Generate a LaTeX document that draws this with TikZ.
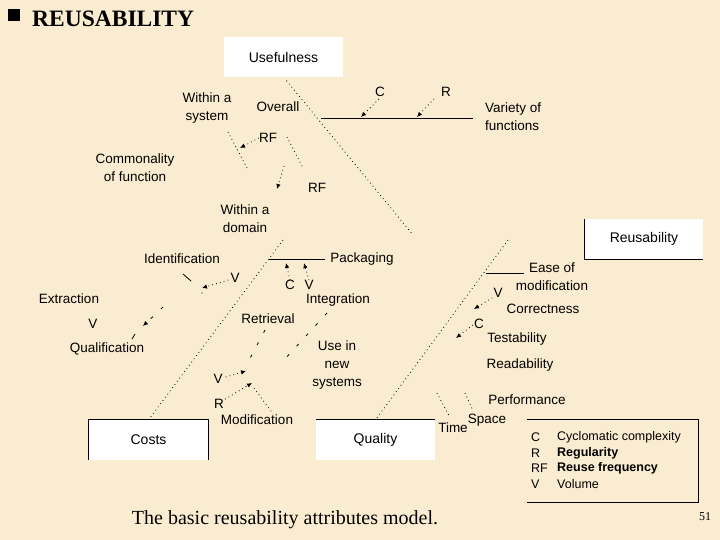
\documentclass[tikz,border=0pt]{standalone}
\usepackage{fontspec}
\setmainfont{Liberation Serif}
\newfontfamily\arialf{Liberation Sans}
\usetikzlibrary{arrows.meta,calc}
\definecolor{parch}{RGB}{250,236,208}
\begin{document}
\begin{tikzpicture}[x=1pt,y=-1pt,
  lbl/.style={font=\arialf\fontsize{13.5}{18}\selectfont, align=center, inner sep=0pt},
  lgd/.style={font=\arialf\fontsize{12.5}{15}\selectfont, anchor=west, inner sep=0pt},
  boxw/.style={fill=white, draw=none, minimum width=119pt, minimum height=40pt, inner sep=0pt, font=\arialf\fontsize{14}{16}\selectfont},
  dotl/.style={line width=0.8pt, dash pattern=on 0.8pt off 3.2pt},
  sparse/.style={line width=0.8pt, dash pattern=on 3pt off 11pt},
  arr/.style={-{Latex[length=5pt,width=4.5pt]}},
  solid1/.style={line width=0.8pt}]
\fill[parch] (0,0) rectangle (720,540);
\useasboundingbox (0,0) rectangle (720,540);

% title
\fill[black] (8,9) rectangle (20,21);
\node[anchor=west, inner sep=0pt, font=\bfseries\fontsize{23.5}{26}\selectfont] (title) at (32,19) {REUSABILITY};

% boxes
\node[boxw] (use) at (283.5,57.5) {Usefulness};
\node[boxw, minimum width=118pt] (reuse) at (644,239) {Reusability};
\draw[solid1] (reuse.north west) -- (reuse.south west) -- (reuse.south east);
\node[boxw] (costs) at (148.5,440) {Costs};
\draw[solid1] (costs.south west) -- (costs.north west) -- (costs.north east) -- (costs.south east);
\node[boxw] (quality) at (375.5,440) {Quality};
\draw[solid1] (quality.north west) -- (quality.north east);

% legend
\node[draw=none, minimum width=171pt, minimum height=82pt, inner sep=0pt] (legend) at (612.5,461) {};
\draw[solid1] (legend.north west) -- (legend.north east) -- (legend.south east) -- (legend.south west);
\node[lgd] (lc) at (531,437) {C};
\node[lgd] (lcx) at (557,437) {Cyclomatic complexity};
\node[lgd] (lr) at (531,453) {R};
\node[lgd] (lrx) at (557,453) {\bfseries Regularity};
\node[lgd] (lrf) at (531,468) {RF};
\node[lgd] (lrfx) at (557,468) {\bfseries Reuse frequency};
\node[lgd] (lv) at (531,484) {V};
\node[lgd] (lvx) at (557,484) {Volume};

% labels
\node[lbl] (wsys) at (207,108) {Within a\\system};
\node[lbl] (overall) at (278,107) {Overall};
\node[lbl] (rf1) at (268,138) {RF};
\node[lbl] (common) at (135,168) {Commonality\\of function};
\node[lbl] (rf2) at (317,188) {RF};
\node[lbl] (wdom) at (245,219) {Within a\\domain};
\node[lbl] (cv) at (380,92) {C};
\node[lbl] (rv) at (446,92) {R};
\node[lbl, anchor=west, align=left] (variety) at (485,117) {Variety of\\functions};
\node[lbl] (ident) at (182,259) {Identification};
\node[lbl] (pack) at (362,259) {Packaging};
\node[lbl] (vid) at (235,278) {V};
\node[lbl] (cp) at (290,285) {C};
\node[lbl] (vp) at (309,285) {V};
\node[lbl] (extr) at (69,299) {Extraction};
\node[lbl] (integ) at (338,300) {Integration};
\node[lbl] (vex) at (93,324) {V};
\node[lbl] (retr) at (268,319) {Retrieval};
\node[lbl] (qual) at (107,349) {Qualification};
\node[lbl] (usenew) at (337,365) {Use in\\new\\systems};
\node[lbl] (vm) at (218,379) {V};
\node[lbl] (rm) at (219,404) {R};
\node[lbl] (modif) at (257,420) {Modification};
\node[lbl] (ease) at (552,277) {Ease of\\modification};
\node[lbl] (ve) at (498,293) {V};
\node[lbl] (corr) at (543,309) {Correctness};
\node[lbl] (ce) at (479,324) {C};
\node[lbl] (test) at (517,339) {Testability};
\node[lbl] (read) at (520,365) {Readability};
\node[lbl] (perf) at (527,400) {Performance};
\node[lbl] (time) at (453,428) {Time};
\node[lbl] (space) at (487,420) {Space};

% main dotted lines
\coordinate (uend) at (413,235);
\coordinate (cstart) at (283,240);
\coordinate (qstart) at (508,240);
\draw[dotl] ($(use.south)+(3,3)$) -- (uend);
\draw[dotl] (cstart) -- (costs.north);
\draw[dotl] (qstart) -- (quality.north);

% variety of functions
\coordinate (va) at (321,118);
\coordinate (vb) at (473,118);
\draw[solid1] (va) -- (vb);
\coordinate (vca) at (361,117);
\coordinate (vra) at (417,117);
\draw[dotl, arr] ($(cv.south)+(-1,2)$) -- (vca);
\draw[dotl, arr] ($(rv.south)+(-12,2)$) -- (vra);

% within a system / overall / RF
\coordinate (ws1) at (228,132);
\coordinate (ws2) at (247,168);
\draw[dotl] (ws1) -- (ws2);
\coordinate (rf1t) at (240,148);
\draw[dotl, arr] (rf1.west) -- (rf1t);
\coordinate (ov1) at (287,137);
\coordinate (ov2) at (303,168);
\draw[dotl] (ov1) -- (ov2);
\coordinate (wd1) at (284,166);
\coordinate (wd2) at (277,189);
\draw[dotl, arr] (wd1) -- (wd2);

% packaging
\coordinate (pa) at (269,259);
\coordinate (pb) at (325,259);
\draw[solid1] (pa) -- (pb);
\draw[dotl, arr] (cp.north) -- ($(cp.north)+(-4,-17)$);
\draw[dotl, arr] (vp.north) -- ($(vp.north)+(-5,-17)$);

% identification
\coordinate (id1) at (183,274);
\coordinate (id2) at (191,281);
\draw[line width=0.8pt] (id1) -- (id2);
\coordinate (id3) at (202,288);
\draw[dotl, arr] ($(vid.west)+(-2,2)$) -- (id3);
\fill (202,293) circle (0.6pt);

% extraction/qualification line
\coordinate (eq1) at (163,307);
\coordinate (eq2) at (143,326);
\draw[sparse, arr] (eq1) -- (eq2);
\coordinate (eq3) at (135,334);
\coordinate (eq4) at (132,339);
\draw[line width=0.8pt] (eq3) -- (eq4);

% integration line
\coordinate (in1) at (327,313);
\coordinate (in2) at (284,360);
\draw[sparse] (in1) -- (in2);

% retrieval line
\coordinate (re1) at (265,330);
\coordinate (re2) at (246,366);
\draw[sparse] (re1) -- (re2);
\coordinate (vma) at (246,371);
\coordinate (rma) at (252,383);
\draw[dotl, arr] ($(vm.east)+(3,-2)$) -- (vma);
\draw[dotl, arr] ($(rm.north east)+(1,0)$) -- (rma);
\coordinate (mo1) at (254,388);
\draw[dotl] (mo1) -- ($(modif.north)+(16,-1)$);

% ease of modification
\coordinate (ea) at (486,273);
\coordinate (eb) at (524,273);
\draw[solid1] (ea) -- (eb);
\coordinate (vea) at (474,309);
\coordinate (cea) at (456,338);
\draw[dotl, arr] ($(ve.south west)+(-1,0)$) -- (vea);
\draw[dotl, arr] ($(ce.west)+(-1,1)$) -- (cea);

% time / space
\draw[dotl] (437,393) -- ($(time.north)+(-4,-7)$);
\draw[dotl] (465,393) -- ($(space.north)+(-14,-3)$);

% caption
\node[inner sep=0pt, font=\fontsize{20}{23}\selectfont] (cap) at (285,520) {The basic reusability attributes model.};
\node[inner sep=0pt, font=\fontsize{12}{14}\selectfont] (pg) at (705,517) {51};
\end{tikzpicture}
\end{document}
